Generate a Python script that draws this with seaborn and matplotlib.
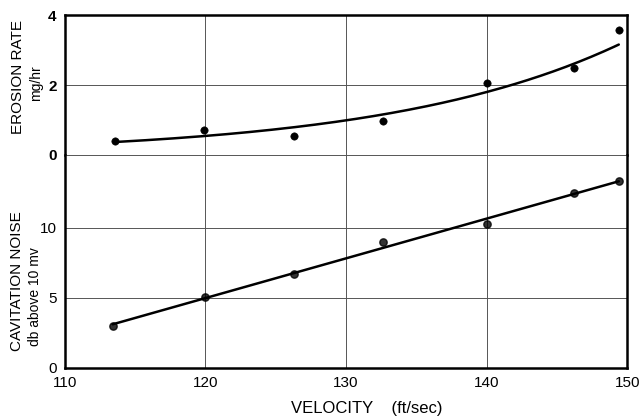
import seaborn as sns
import matplotlib.pyplot as plt
import pandas as pd
import numpy as np

# data
velocity = [113.6, 119.9, 126.3, 132.6, 140.0, 146.2, 149.4]
erosion = [0.40, 0.71, 0.54, 0.97, 2.05, 2.50, 3.57]
noise_velocity = [113.4, 120.0, 126.3, 132.6, 140.0, 146.2, 149.4]
noise = [3.0, 5.05, 6.7, 8.95, 10.3, 12.45, 13.35]

x_ticks = [110, 120, 130, 140, 150]
erosion_ticks = [0, 2, 4]
noise_ticks = [0, 5, 10]

top = pd.DataFrame({'velocity': velocity, 'erosion': erosion})
bottom = pd.DataFrame({'velocity': noise_velocity, 'noise': noise})

# exponential fit for the erosion curve (straight line in log space)
b, a = np.polyfit(top['velocity'], np.log(top['erosion']), 1)
vx = np.linspace(min(velocity), max(velocity), 200)
curve = pd.DataFrame({'velocity': vx, 'erosion': np.exp(a + b * vx)})

sns.set_style("white")
plt.rcParams['font.family'] = ['Liberation Sans', 'DejaVu Sans']
plt.rcParams['text.color'] = 'black'
plt.rcParams['xtick.color'] = 'black'
plt.rcParams['ytick.color'] = 'black'

fig, (ax1, ax2) = plt.subplots(2, 1, figsize=(6.42, 4.18), dpi=100, sharex=True,
                               gridspec_kw={'height_ratios': [140, 213], 'hspace': 0})
fig.subplots_adjust(left=0.101, right=0.977, top=0.964, bottom=0.12)

sns.scatterplot(data=top, x='velocity', y='erosion', ax=ax1, color='black',
                s=28, edgecolor='black', zorder=3)
sns.lineplot(data=curve, x='velocity', y='erosion', ax=ax1, color='black', lw=1.8)

# cavitation noise with straight fitted line
sns.regplot(data=bottom, x='velocity', y='noise', ci=None, ax=ax2,
            color='black', scatter_kws={'s': 28, 'zorder': 3},
            line_kws={'lw': 1.8})

ax1.set_ylim(0, 4)
ax2.set_ylim(0, 15.2)
ax2.set_xlim(110, 150)

ax1.set_yticks(erosion_ticks)
ax1.set_yticklabels([str(t) for t in erosion_ticks], fontsize=11, fontweight='bold')
ax2.set_yticks(noise_ticks)
ax2.set_yticklabels([str(t) for t in noise_ticks], fontsize=11)
ax2.set_xticks(x_ticks)
ax2.set_xticklabels([str(t) for t in x_ticks], fontsize=11)

for ax in (ax1, ax2):
    ax.grid(True, color='#555555', lw=0.7)
    ax.tick_params(length=0, pad=6)
    ax.set_xlabel('')
    ax.set_ylabel('')
    for s in ax.spines.values():
        s.set_color('black')
        s.set_linewidth(1.8)

ax1.spines['bottom'].set_visible(False)
ax2.spines['top'].set_visible(False)
ax2.axhline(15.2, color='#555555', lw=0.7, clip_on=False)

# axis titles, each line placed as in the original
fig.text(18 / 642, 1 - 77 / 418, 'EROSION RATE', rotation=90, ha='center', va='center', fontsize=11)
fig.text(36 / 642, 1 - 83 / 418, 'mg/hr', rotation=90, ha='center', va='center', fontsize=10)
fig.text(17 / 642, 1 - 281 / 418, 'CAVITATION NOISE', rotation=90, ha='center', va='center', fontsize=11)
fig.text(35 / 642, 1 - 297 / 418, 'db above 10 mv', rotation=90, ha='center', va='center', fontsize=10)
fig.text(367 / 642, 1 - 408 / 418, 'VELOCITY    (ft/sec)', ha='center', va='center', fontsize=12)

fig.savefig('out.png', dpi=100)
